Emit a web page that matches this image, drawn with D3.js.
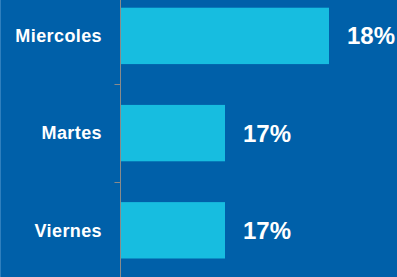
<!DOCTYPE html>
<html>
<head>
<meta charset="utf-8">
<script src="https://cdn.jsdelivr.net/npm/d3@7"></script>
<style>
  html, body { margin: 0; padding: 0; background: #0060a9; }
  svg { display: block; }
</style>
</head>
<body>
<svg></svg>
<script>
let days = ["Miercoles", "Martes", "Viernes"];
let shares = [18, 17, 17];
let valueLabels = ["18%", "17%", "17%"];

let width = 397;
let height = 277;

let svg = d3.select("svg")
  .attr("width", width)
  .attr("height", height);

svg.append("rect")
  .attr("width", width)
  .attr("height", height)
  .attr("fill", "#0060a9");

// left edge strip
svg.append("rect")
  .attr("x", 0).attr("y", 0)
  .attr("width", 1).attr("height", height)
  .attr("fill", "#2f7fbd");

let y = d3.scaleBand()
  .domain(days)
  .range([-12.7, 278.9])
  .paddingInner(0.42)
  .paddingOuter(0.21);

let x = d3.scaleLinear()
  .domain([16, 18.5])
  .range([121, 381]);

let data = days.map((d, i) => ({ day: d, v: shares[i], label: valueLabels[i] }));

svg.selectAll(".bar")
  .data(data)
  .join("rect")
  .attr("class", "bar")
  .attr("x", x(16))
  .attr("y", d => y(d.day))
  .attr("width", d => x(d.v) - x(16))
  .attr("height", y.bandwidth())
  .attr("fill", "#17bde0");

// axis line and ticks between categories
let axisX = 120.5;
svg.append("line")
  .attr("x1", axisX).attr("x2", axisX)
  .attr("y1", 0).attr("y2", height)
  .attr("stroke", "#8a8a8a")
  .attr("stroke-width", 1);

let gap = y.step() - y.bandwidth();
svg.selectAll(".tick")
  .data(days.slice(0, -1))
  .join("line")
  .attr("class", "tick")
  .attr("x1", axisX - 6).attr("x2", axisX)
  .attr("y1", d => Math.round(y(d) + y.bandwidth() + gap / 2) + 0.5)
  .attr("y2", d => Math.round(y(d) + y.bandwidth() + gap / 2) + 0.5)
  .attr("stroke", "#8a8a8a");

svg.selectAll(".cat")
  .data(data)
  .join("text")
  .attr("class", "cat")
  .attr("x", 102)
  .attr("y", d => y(d.day) + y.bandwidth() / 2)
  .attr("dy", "0.35em")
  .attr("text-anchor", "end")
  .attr("font-family", "Liberation Sans, Arial, sans-serif")
  .attr("font-weight", "bold")
  .attr("font-size", 18)
  .attr("letter-spacing", "0.4px")
  .attr("fill", "#ffffff")
  .text(d => d.day);

svg.selectAll(".val")
  .data(data)
  .join("text")
  .attr("class", "val")
  .attr("x", d => x(d.v) + 18)
  .attr("y", d => y(d.day) + y.bandwidth() / 2)
  .attr("dy", "0.35em")
  .attr("font-family", "Liberation Sans, Arial, sans-serif")
  .attr("font-weight", "bold")
  .attr("font-size", 24)
  .attr("fill", "#ffffff")
  .text(d => d.label);
</script>
</body>
</html>
